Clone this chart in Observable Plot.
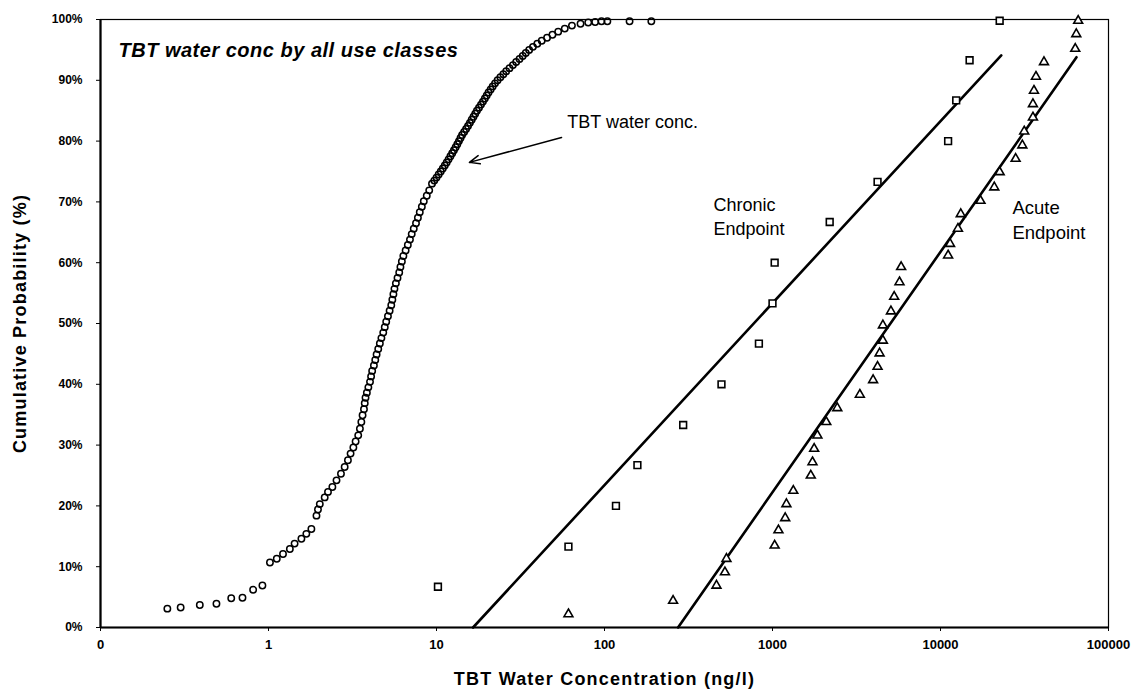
<!DOCTYPE html>
<html><head><meta charset="utf-8">
<script src="https://cdn.jsdelivr.net/npm/d3@7"></script>
<script src="https://cdn.jsdelivr.net/npm/@observablehq/plot@0.6"></script>
<style>
html,body{margin:0;padding:0;background:#fff;}
</style></head>
<body><div id="chart"></div>
<script>
// TBT water concentration (ng/l) and cumulative probability (%)
const waterConc = [0.25,0.30,0.39,0.49,0.60,0.70,0.81,0.92,
  1.02,1.12,1.22,1.34,1.43,1.57,1.68,1.80,1.93,1.97,
  2.02,2.16,2.26,2.40,2.54,2.70,2.84,2.97,3.08,3.20,3.30,3.42,3.50,3.57,3.63,3.70,3.74,3.78,3.85,3.93,
  4.02,4.08,4.14,4.24,4.32,4.40,4.50,4.60,4.70,4.82,4.92,5.02,5.14,5.26,5.38,5.46,5.54,5.62,5.73,5.86,
  6.00,6.10,6.22,6.35,6.55,6.75,6.95,7.12,7.32,7.55,7.75,7.95,8.18,8.40,8.75,9.05,
  9.4,9.7,10.0,10.3,10.6,10.9,11.2,11.5,11.8,12.1,12.4,12.7,13.0,13.3,13.6,13.9,14.2,14.6,15.0,15.4,
  15.8,16.2,16.6,17.0,17.4,17.9,18.4,18.9,19.4,19.9,20.4,21.0,21.6,22.3,23.1,24.0,25.0,26.0,27.2,28.5,
  29.8,31.2,32.6,34.0,35.6,37.5,39.8,42.3,45.5,49.0,53.0,58.0,64.0,72.0,80.0,88.0,96.0,104.0,141.0,190.0];
const waterProb = [3.1,3.3,3.7,3.9,4.8,4.9,6.2,6.9,
  10.7,11.3,12.1,12.9,13.8,14.6,15.4,16.2,18.4,19.4,
  20.3,21.4,22.3,23.1,24.2,25.3,26.4,27.5,28.6,29.6,30.6,31.6,32.7,33.8,34.9,35.9,36.9,37.8,38.6,39.5,
  40.4,41.3,42.2,43.1,44.0,44.9,45.8,46.7,47.6,48.5,49.4,50.3,51.2,52.1,53.0,53.9,54.8,55.7,56.6,57.5,
  58.4,59.3,60.2,61.1,62.0,62.9,63.8,64.7,65.6,66.5,67.4,68.3,69.2,70.1,71.0,71.9,
  73.0,73.5,74.0,74.5,75.0,75.5,76.0,76.5,77.0,77.5,78.0,78.5,79.0,79.5,80.0,80.5,81.0,81.5,82.0,82.5,
  83.0,83.5,84.0,84.5,85.0,85.5,86.0,86.5,87.0,87.5,88.0,88.5,89.0,89.5,90.0,90.5,91.0,91.5,92.0,92.5,
  93.0,93.5,94.0,94.5,95.0,95.5,96.0,96.5,97.0,97.5,98.0,98.5,99.0,99.3,99.5,99.6,99.7,99.7,99.7,99.7];

// Chronic endpoint (squares)
const chronicConc = [10.2,61,117,157,294,497,830,1000,1030,2190,4220,11100,12400,14900,22500];
const chronicProb = [6.7,13.3,20.0,26.7,33.3,40.0,46.7,53.3,60.0,66.7,73.3,80.0,86.7,93.3,99.8];

// Acute endpoint (triangles)
const acuteConc = [61,256,464,521,532,1030,1085,1190,1210,1330,
  1690,1730,1770,1850,2090,2430,3310,3970,4220,4340,
  4540,4540,5070,5300,5700,5830,11100,11400,12700,13200,
  17300,20900,22500,28000,30700,31500,35500,35500,36000,37000,
  41300,63400,64300,66000];
const acuteProb = [2.2,4.4,6.9,9.1,11.3,13.5,16.0,18.0,20.3,22.5,
  25.0,27.2,29.4,31.6,33.8,36.1,38.3,40.7,42.9,45.1,
  47.2,49.7,52.0,54.4,56.8,59.3,61.2,63.1,65.6,68.0,
  70.2,72.4,74.9,77.1,79.3,81.6,83.9,86.1,88.3,90.6,
  93.0,95.2,97.6,99.8];

// Fitted lines (end points)
const chronicFitConc = [16.5, 23000];
const chronicFitProb = [0, 94.1];
const acuteFitConc = [274, 64500];
const acuteFitProb = [0, 93.8];

// Ticks
const xTicks = [0.1, 1, 10, 100, 1000, 10000, 100000];
const xTickLabels = ["0", "1", "10", "100", "1000", "10000", "100000"];
const yTicks = [0, 10, 20, 30, 40, 50, 60, 70, 80, 90, 100];

const water = waterConc.map((c, i) => ({conc: c, prob: waterProb[i]}));
const chronic = chronicConc.map((c, i) => ({conc: c, prob: chronicProb[i]}));
const acute = acuteConc.map((c, i) => ({conc: c, prob: acuteProb[i]}));
const chronicFit = chronicFitConc.map((c, i) => ({conc: c, prob: chronicFitProb[i]}));
const acuteFit = acuteFitConc.map((c, i) => ({conc: c, prob: acuteFitProb[i]}));

const font = "'Liberation Sans', Arial, sans-serif";

const chart = Plot.plot({
  width: 1136, height: 690,
  marginLeft: 100, marginRight: 28, marginTop: 19, marginBottom: 63,
  style: {fontFamily: font, fontSize: "12px", color: "#000", background: "#fff"},
  x: {type: "log", domain: [0.1, 100000]},
  y: {domain: [0, 100]},
  marks: [
    Plot.frame({stroke: "#000", strokeWidth: 1.2}),
    Plot.axisX({ticks: xTicks, tickFormat: d => xTickLabels[xTicks.indexOf(d)], tickSize: 4, tickPadding: 8, fontSize: 13, fontWeight: "bold", label: null}),
    Plot.axisY({ticks: yTicks, tickFormat: d => d + "%", tickSize: 4, tickPadding: 14, fontSize: 12, fontWeight: "bold", label: null}),
    Plot.ruleY([0], {stroke: "#000", strokeWidth: 2.2}),
    Plot.ruleX([0.1], {stroke: "#000", strokeWidth: 2.2}),
    Plot.line(chronicFit, {x: "conc", y: "prob", stroke: "#000", strokeWidth: 2.6}),
    Plot.line(acuteFit, {x: "conc", y: "prob", stroke: "#000", strokeWidth: 2.6}),
    Plot.dot(water, {x: "conc", y: "prob", r: 3.2, stroke: "#000", strokeWidth: 1.5, fill: "none"}),
    Plot.dot(chronic, {x: "conc", y: "prob", symbol: "square", r: 3.8, stroke: "#000", strokeWidth: 1.6, fill: "#fff"}),
    Plot.dot(acute, {x: "conc", y: "prob", symbol: "triangle", r: 3.3, stroke: "#000", strokeWidth: 1.6, fill: "#fff"}),
    Plot.arrow([{x1: 55.5, y1: 80.6, x2: 15.7, y2: 76.5}], {x1: "x1", y1: "y1", x2: "x2", y2: "y2", stroke: "#000", strokeWidth: 1.5, headLength: 11, headAngle: 45}),
    Plot.text([{x: 60, y: 82.1, t: "TBT water conc."}], {x: "x", y: "y", text: "t", textAnchor: "start", lineAnchor: "bottom", fontSize: 18, fontFamily: font}),
    Plot.text([{x: 0.128, y: 93.8, t: "TBT water conc by all use classes"}], {x: "x", y: "y", text: "t", textAnchor: "start", lineAnchor: "bottom", fontSize: 20, fontStyle: "italic", fontWeight: "bold", fontFamily: font, style: "letter-spacing:0.45px"}),
    Plot.text([{x: 445, y: 64.5, t: "Chronic\nEndpoint"}], {x: "x", y: "y", text: "t", textAnchor: "start", lineAnchor: "bottom", lineHeight: 1.35, fontSize: 18, fontFamily: font}),
    Plot.text([{x: 26800, y: 63.9, t: "Acute\nEndpoint"}], {x: "x", y: "y", text: "t", textAnchor: "start", lineAnchor: "bottom", lineHeight: 1.35, fontSize: 18.5, fontFamily: font}),
    Plot.text(["Cumulative Probability (%)"], {frameAnchor: "left", dx: -80, rotate: -90, textAnchor: "middle", lineAnchor: "middle", fontSize: 18, fontWeight: "bold", fontFamily: font}),
    Plot.text(["TBT Water Concentration (ng/l)"], {frameAnchor: "bottom", dy: 57, textAnchor: "middle", lineAnchor: "bottom", fontSize: 18, fontWeight: "bold", fontFamily: font})
  ]
});
// Slight letter spacing on the axis titles and title, as in the scanned reference
chart.querySelectorAll("text").forEach(t => {
  const s = t.textContent;
  if (s === "Cumulative Probability (%)" || s === "TBT Water Concentration (ng/l)") t.setAttribute("letter-spacing", "1.2");
  if (s === "TBT water conc by all use classes") t.setAttribute("letter-spacing", "0.5");
});
document.getElementById("chart").appendChild(chart);
</script>
</body></html>
